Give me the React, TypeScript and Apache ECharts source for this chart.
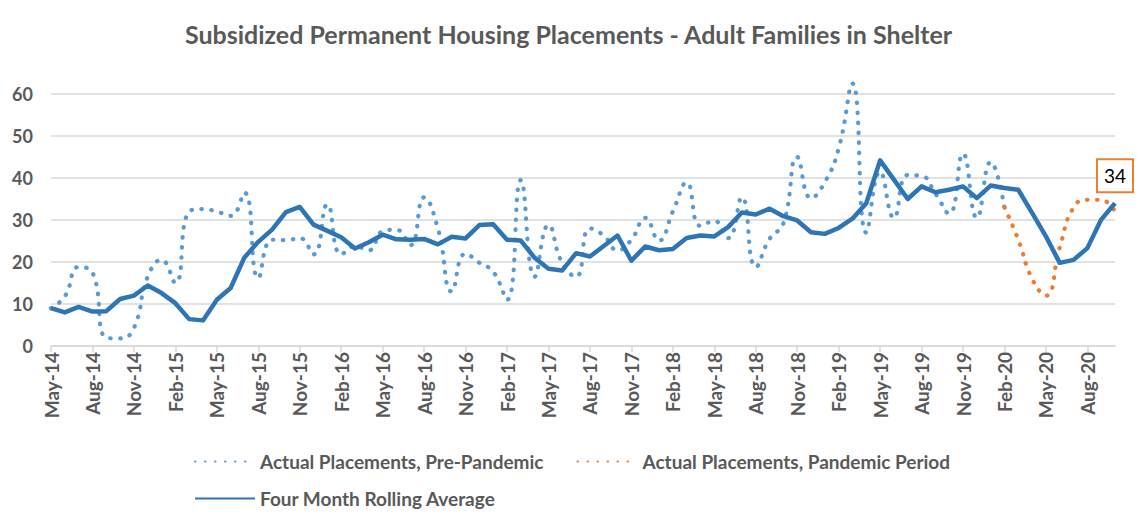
import React, { useEffect, useRef } from "react";
import * as echarts from "echarts";

const MONTH_NAMES = ["Jan", "Feb", "Mar", "Apr", "May", "Jun", "Jul", "Aug", "Sep", "Oct", "Nov", "Dec"];
const FIRST_MONTH = 4; // May
const FIRST_YEAR = 2014;
const MONTH_COUNT = 78; // May-14 .. Oct-20

const categories: string[] = [];
for (let i = 0; i < MONTH_COUNT; i++) {
  const m = (FIRST_MONTH + i) % 12;
  const y = FIRST_YEAR + Math.floor((FIRST_MONTH + i) / 12);
  categories.push(MONTH_NAMES[m] + "-" + String(y % 100).padStart(2, "0"));
}

const actualPrePandemic = [
  9, 11.8, 18.8, 17.5, 2.0, 1.8, 4.3, 16.5, 20.5, 15,
  32, 32.6, 32, 31, 36.5, 16.2, 25.3, 25.2, 25.7, 21.8,
  33.7, 21.8, 23.8, 22.8, 27.3, 27.7, 24, 35.4, 28, 13,
  22, 19.8, 17.7, 11, 39.5, 16.5, 28.8, 19.7, 16.5, 28,
  26.3, 22.8, 25.3, 30.5, 25.1, 32, 38.9, 28.6, 29.8, 25.7,
  35.4, 18.8, 25.5, 29.2, 45, 35.2, 39, 47, 62.5, 27,
  41.5, 30.5, 40.7, 40.5, 36.3, 31.5, 45.8, 30.5, 43.8, 33,
];

const PANDEMIC_START = 69;
const actualPandemicValues = [33, 25.3, 16, 12, 23.5, 33, 34.8, 34.8, 32];

const rollingAverage = [
  9.0, 8.0, 9.3, 8.2, 8.3, 11.2, 12.0, 14.4, 12.6, 10.2,
  6.4, 6.1, 11.0, 13.8, 21.1, 24.8, 27.7, 31.9, 33.1, 28.9,
  27.4, 25.9, 23.2, 24.7, 26.5, 25.4, 25.3, 25.5, 24.2, 26.0,
  25.6, 28.8, 29.0, 25.3, 25.1, 21.0, 18.4, 18.0, 22.1, 21.3,
  23.8, 26.3, 20.3, 23.7, 22.8, 23.1, 25.7, 26.3, 26.1, 28.3,
  31.8, 31.3, 32.7, 30.9, 29.9, 27.1, 26.7, 28.1, 30.3, 34.0,
  44.2, 39.6, 35.0, 38.0, 36.6, 37.2, 38.0, 35.2, 38.2, 37.6,
  37.2, 31.7, 26.1, 19.8, 20.5, 23.3, 30.1, 34,
];

const yTicks = [0, 10, 20, 30, 40, 50, 60];

const NAME_PRE = "Actual Placements, Pre-Pandemic";
const NAME_PAN = "Actual Placements, Pandemic Period";
const NAME_AVG = "Four Month Rolling Average";

const FONT = "Lato, 'Open Sans', sans-serif";
const GRAY = "#595959";

export default function App() {
  const ref = useRef<HTMLDivElement>(null);

  useEffect(() => {
    document.body.style.margin = "0";
    if (!ref.current) return;
    const chart = echarts.init(ref.current, undefined, { renderer: "svg" });

    const pandemicData: (number | null)[] = categories.map(() => null);
    actualPandemicValues.forEach((v, k) => {
      pandemicData[PANDEMIC_START + k] = v;
    });

    const lastIdx = rollingAverage.length - 1;
    const legendText = { fontFamily: FONT, fontSize: 19, fontWeight: "bold", color: GRAY };
    const dotted = [0.5, 9.5];

    chart.setOption({
      animation: false,
      title: {
        text: "Subsidized Permanent Housing Placements - Adult Families in Shelter",
        left: "center",
        top: 16,
        textStyle: { fontFamily: FONT, fontSize: 25, fontWeight: "bold", color: GRAY },
      },
      legend: [
        {
          data: [NAME_PRE, NAME_PAN],
          left: 189,
          top: 447,
          itemWidth: 60,
          itemHeight: 14,
          itemGap: 33,
          itemStyle: { opacity: 0 },
          textStyle: legendText,
        },
        {
          data: [NAME_AVG],
          left: 189,
          top: 484,
          itemWidth: 60,
          itemHeight: 14,
          itemStyle: { opacity: 0 },
          textStyle: legendText,
        },
      ],
      grid: { left: 51, right: 22, top: 94, bottom: 176 },
      xAxis: {
        type: "category",
        data: categories,
        boundaryGap: false,
        axisLine: { lineStyle: { color: "#d9d9d9", width: 1.5 } },
        axisTick: { interval: 2, length: 6, lineStyle: { color: "#d9d9d9", width: 1.5 } },
        axisLabel: {
          interval: 2,
          rotate: 90,
          margin: 6,
          fontFamily: FONT,
          fontSize: 19,
          fontWeight: "bold",
          color: GRAY,
        },
        splitLine: { show: false },
      },
      yAxis: {
        type: "value",
        min: yTicks[0],
        max: yTicks[yTicks.length - 1],
        interval: 10,
        axisLine: { show: false },
        axisTick: { show: false },
        axisLabel: { margin: 18, fontFamily: FONT, fontSize: 18, fontWeight: "bold", color: GRAY },
        splitLine: { lineStyle: { color: "#d9d9d9", width: 1.5 } },
      },
      series: [
        {
          name: NAME_PRE,
          type: "line",
          data: actualPrePandemic,
          smooth: true,
          symbol: "none",
          clip: false,
          lineStyle: { color: "#5B9BD5", width: 4.2, type: dotted, cap: "round" },
          itemStyle: { color: "#5B9BD5" },
          z: 2,
        },
        {
          name: NAME_PAN,
          type: "line",
          data: pandemicData,
          smooth: true,
          symbol: "none",
          clip: false,
          lineStyle: { color: "#ED7D31", width: 4.2, type: dotted, cap: "round" },
          itemStyle: { color: "#ED7D31" },
          z: 3,
        },
        {
          name: NAME_AVG,
          type: "line",
          data: rollingAverage,
          symbol: "none",
          clip: false,
          lineStyle: { color: "#2E75B6", width: 4.5, join: "round" },
          itemStyle: { color: "#2E75B6" },
          z: 4,
          markPoint: {
            symbol: "circle",
            symbolSize: 0,
            silent: true,
            data: [{ coord: [categories[lastIdx], rollingAverage[lastIdx]], value: rollingAverage[lastIdx] }],
            label: {
              show: true,
              position: "top",
              distance: 12,
              formatter: "{c}",
              fontFamily: FONT,
              fontSize: 19,
              lineHeight: 21,
              color: "#000",
              backgroundColor: "#fff",
              borderColor: "#ED7D31",
              borderWidth: 2,
              padding: [5, 6, 5, 6],
            },
          },
        },
      ],
    });

    return () => chart.dispose();
  }, []);

  return <div ref={ref} style={{ width: 1137, height: 522 }} />;
}
